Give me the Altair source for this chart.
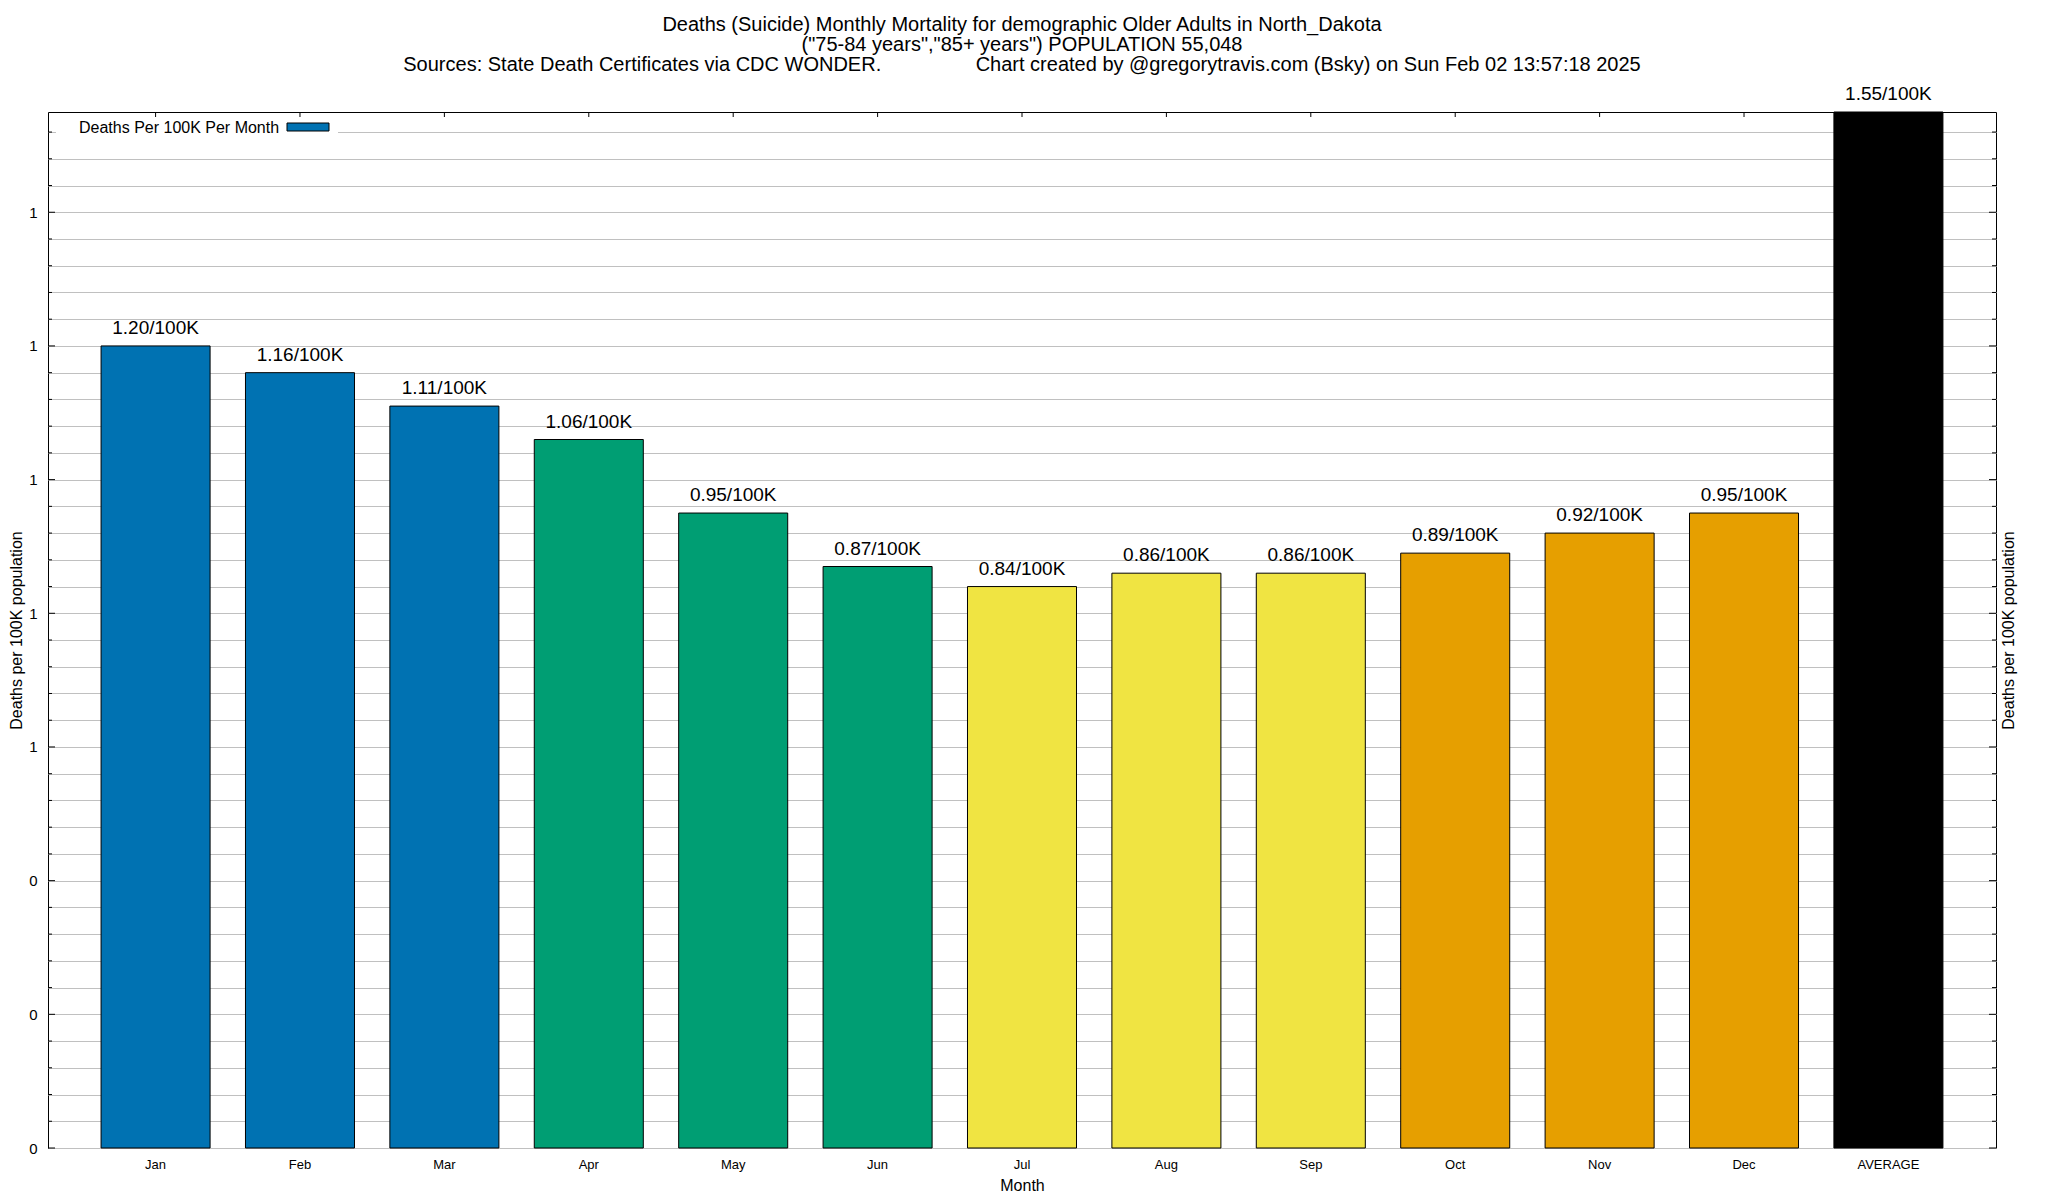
import altair as alt
import pandas as pd

FONT = "Liberation Sans"

months = ["Jan", "Feb", "Mar", "Apr", "May", "Jun", "Jul", "Aug", "Sep",
          "Oct", "Nov", "Dec", "AVERAGE"]
rates = [1.20, 1.16, 1.11, 1.06, 0.95, 0.87, 0.84, 0.86, 0.86, 0.89, 0.92, 0.95, 1.55]
bar_colors = ["#0072b2", "#0072b2", "#0072b2",
              "#009e73", "#009e73", "#009e73",
              "#f0e442", "#f0e442", "#f0e442",
              "#e69f00", "#e69f00", "#e69f00",
              "#000000"]
major_ticks = [0.0, 0.2, 0.4, 0.6, 0.8, 1.0, 1.2, 1.4]
grid_ticks = [round(i * 0.04, 2) for i in range(39)]
minor_ticks = [v for v in grid_ticks if all(abs(v - m) > 1e-6 for m in major_ticks)]

title_lines = [
    "Deaths (Suicide) Monthly Mortality for demographic Older Adults in North_Dakota",
    "(\"75-84 years\",\"85+ years\") POPULATION 55,048",
    "Sources: State Death Certificates via CDC WONDER." + "\u00a0" * 17
    + "Chart created by @gregorytravis.com (Bsky) on Sun Feb 02 13:57:18 2025",
]
legend_label = "Deaths Per 100K Per Month"
y_title = "Deaths per 100K population"

W, H = 1948, 1036
YMAX = 1.55

df = pd.DataFrame({"month": months, "rate": rates, "color": bar_colors})
major_df = pd.DataFrame({"v": major_ticks})
minor_df = pd.DataFrame({"v": minor_ticks})

yscale = alt.Scale(domain=[0, YMAX], nice=False, zero=True)

xenc = alt.X(
    "month:N", sort=months,
    scale=alt.Scale(paddingInner=0.245, paddingOuter=0.3675),
    axis=alt.Axis(title="Month", labelAngle=0, ticks=False, domain=False, grid=False,
                  labelFontSize=13, labelFont=FONT, labelColor="black",
                  labelPadding=16, labelBaseline="middle",
                  titleFontSize=16, titleFont=FONT, titleFontWeight="normal",
                  titleColor="black", titleY=37, titleBaseline="middle"),
)

bars = alt.Chart(df).mark_bar(stroke="black", strokeWidth=1).encode(
    x=xenc,
    y=alt.Y("rate:Q", scale=yscale, axis=alt.Axis(
        values=grid_ticks, grid=True, gridColor="#c0c0c0", gridWidth=1,
        ticks=False, domain=False, labelOverlap=False, labelFlush=False,
        labelExpr="abs(datum.value*5 - round(datum.value*5)) < 0.001 ? format(datum.value, '.0f') : ''",
        labelFontSize=15, labelFont=FONT, labelColor="black", labelPadding=11,
        title=y_title, titleFontSize=16, titleFont=FONT, titleFontWeight="normal",
        titleColor="black", titleX=-32, titleY=H / 2, titleAngle=270,
        titleAlign="center", titleBaseline="middle")),
    fill=alt.Fill("color:N", scale=None),
)

labels = alt.Chart(df).transform_calculate(
    label="format(datum.rate, '.2f') + '/100K'"
).mark_text(dy=-12, baseline="alphabetic", fontSize=19, font=FONT, color="black").encode(
    x=xenc,
    y=alt.Y("rate:Q", scale=yscale, axis=None),
    text="label:N",
)

left_major = alt.Chart(major_df).mark_rule(color="black", strokeWidth=1).encode(
    y=alt.Y("v:Q", scale=yscale, axis=None), x=alt.value(0), x2=alt.value(7))
left_minor = alt.Chart(minor_df).mark_rule(color="black", strokeWidth=1).encode(
    y=alt.Y("v:Q", scale=yscale, axis=None), x=alt.value(0), x2=alt.value(4))
right_minor = alt.Chart(minor_df).mark_rule(color="black", strokeWidth=1).encode(
    y=alt.Y("v:Q", scale=yscale, axis=None), x=alt.value(W - 4), x2=alt.value(W))
right_major = alt.Chart(major_df).mark_rule(color="black", strokeWidth=1).encode(
    y=alt.Y("v:Q", scale=yscale, axis=alt.Axis(
        orient="right", labels=False, ticks=False, domain=False, grid=False,
        title=y_title, titleFontSize=16, titleFont=FONT, titleFontWeight="normal",
        titleColor="black", titleX=12, titleY=H / 2, titleAngle=270,
        titleAlign="center", titleBaseline="middle")),
    x=alt.value(W - 7), x2=alt.value(W))

top_ticks = alt.Chart(df).mark_rule(color="black", strokeWidth=1).encode(
    x=xenc, y=alt.value(0), y2=alt.value(5))

legend_data = alt.Data(values=[{"label": legend_label}])
legend_bg = alt.Chart(legend_data).mark_rect(fill="white").encode(
    x=alt.value(8), x2=alt.value(290), y=alt.value(5), y2=alt.value(29))
legend_text = alt.Chart(legend_data).mark_text(
    align="left", baseline="middle", fontSize=16, font=FONT, color="black").encode(
    x=alt.value(31), y=alt.value(16), text="label:N")
legend_swatch = alt.Chart(legend_data).mark_rect(
    fill="#0072b2", stroke="black", strokeWidth=1).encode(
    x=alt.value(239), x2=alt.value(281), y=alt.value(11), y2=alt.value(19))

chart = alt.layer(
    bars, left_major, left_minor, right_minor, right_major, top_ticks, labels,
    legend_bg, legend_text, legend_swatch,
).resolve_scale(y="independent").properties(
    width=W, height=H,
    title=alt.TitleParams(text=title_lines, fontSize=20, font=FONT, fontWeight="normal",
                          color="black", anchor="middle", lineHeight=20, offset=10),
    autosize=alt.AutoSizeParams(type="none"),
    padding={"left": 40, "top": 104, "right": 44, "bottom": 44},
    background="white",
).configure_view(stroke="black", strokeWidth=1)

chart.save("out.html", embed_options={"renderer": "svg", "actions": False})
